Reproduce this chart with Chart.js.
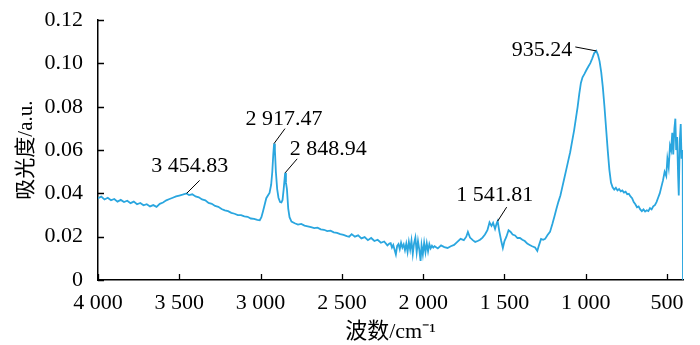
<!DOCTYPE html>
<html>
<head>
<meta charset="utf-8">
<script src="https://cdn.jsdelivr.net/npm/chart.js@4/dist/chart.umd.min.js"></script>
<style>
  html, body { margin: 0; padding: 0; background: #fff; }
  #wrap { width: 700px; height: 345px; }
</style>
</head>
<body>
<div id="wrap"><canvas id="myChart"></canvas></div>
<script>
// волновые числа (cm^-1) и поглощение
const wavenumbers = [
  4000, 3980, 3960, 3940, 3920, 3900, 3880, 3860, 3840, 3820, 3800, 3780, 3760, 3740, 3720, 3700,
  3680, 3660, 3640, 3620, 3600, 3580, 3560, 3540, 3520, 3500, 3480, 3455, 3440, 3420, 3400, 3380,
  3360, 3340, 3320, 3300, 3280, 3260, 3240, 3220, 3200, 3180, 3160, 3140, 3120, 3100, 3080, 3060,
  3040, 3020, 3005, 2995, 2985, 2975, 2965, 2955, 2945, 2935, 2928, 2922, 2917, 2912, 2906, 2898,
  2890, 2880, 2872, 2865, 2858, 2852, 2849, 2844, 2838, 2830, 2822, 2810, 2790, 2770, 2750, 2730,
  2710, 2690, 2670, 2650, 2630, 2610, 2590, 2570, 2550, 2530, 2510, 2490, 2470, 2455, 2440, 2420,
  2400, 2380, 2360, 2340, 2320, 2300, 2280, 2260, 2240, 2220, 2208,
  2200, 2192, 2184, 2176, 2168, 2160, 2152, 2144, 2136, 2128, 2120, 2112, 2104, 2096, 2088, 2080,
  2072, 2064, 2056, 2048, 2040, 2032, 2024, 2016, 2010, 2002, 1994, 1986, 1978, 1970, 1962, 1954,
  1946, 1938, 1930, 1910, 1890, 1870, 1850, 1830, 1810, 1790,
  1770, 1750, 1735, 1725, 1712, 1695, 1680, 1665, 1650, 1635, 1620, 1605, 1592, 1580, 1570, 1558,
  1548, 1542, 1532, 1520, 1510, 1500, 1488, 1475, 1462, 1450, 1435, 1420, 1405, 1390, 1375, 1360,
  1345, 1330, 1312, 1298, 1288, 1275, 1262, 1250, 1235, 1220, 1205, 1192, 1180, 1168, 1156, 1144,
  1132, 1120, 1108, 1096, 1084, 1072, 1060, 1050, 1040, 1030, 1020, 1008, 996, 984, 972, 960,
  948, 935, 925, 915, 905, 895, 885, 875, 865, 855, 845, 835, 825, 815, 805, 795,
  785, 775, 765, 755, 745, 735, 725, 715, 705, 695, 685, 675, 665, 655, 645, 635,
  625, 615, 605, 595, 585, 575, 565, 555, 545, 535, 525, 515, 505, 498, 490, 482,
  475, 468, 462, 455, 449, 444, 438, 432, 428, 422, 416, 411, 407, 404, 402
];
const absorbance = [
  0.0378, 0.0385, 0.0372, 0.0380, 0.0368, 0.0374, 0.0362, 0.0370, 0.0360, 0.0366, 0.0355, 0.0362, 0.0350, 0.0356, 0.0345, 0.0350,
  0.0340, 0.0346, 0.0338, 0.0352, 0.0358, 0.0368, 0.0374, 0.0380, 0.0386, 0.0390, 0.0394, 0.0400, 0.0392, 0.0396, 0.0386, 0.0382,
  0.0372, 0.0368, 0.0356, 0.0352, 0.0342, 0.0338, 0.0328, 0.0322, 0.0318, 0.0310, 0.0306, 0.0300, 0.0300, 0.0294, 0.0292, 0.0284,
  0.0282, 0.0278, 0.0276, 0.0290, 0.0318, 0.0348, 0.0378, 0.0390, 0.0402, 0.0440, 0.0500, 0.0580, 0.0630, 0.0600, 0.0500, 0.0420,
  0.0380, 0.0360, 0.0358, 0.0370, 0.0420, 0.0470, 0.0495, 0.0450, 0.0420, 0.0330, 0.0290, 0.0270, 0.0262, 0.0256, 0.0259, 0.0251,
  0.0248, 0.0244, 0.0240, 0.0242, 0.0234, 0.0232, 0.0226, 0.0228, 0.0220, 0.0218, 0.0212, 0.0208, 0.0203, 0.0200, 0.0212, 0.0200,
  0.0206, 0.0192, 0.0198, 0.0184, 0.0194, 0.0180, 0.0186, 0.0172, 0.0178, 0.0160, 0.0168,
  0.0170, 0.0150, 0.0162, 0.0140, 0.0118, 0.0158, 0.0166, 0.0142, 0.0172, 0.0150, 0.0164, 0.0138, 0.0168, 0.0130, 0.0176, 0.0140,
  0.0182, 0.0120, 0.0170, 0.0196, 0.0128, 0.0180, 0.0140, 0.0088, 0.0160, 0.0118, 0.0172, 0.0128, 0.0170, 0.0132, 0.0166, 0.0146,
  0.0158, 0.0150, 0.0156, 0.0146, 0.0160, 0.0152, 0.0148, 0.0156, 0.0162, 0.0176,
  0.0190, 0.0184, 0.0200, 0.0222, 0.0196, 0.0184, 0.0176, 0.0180, 0.0186, 0.0196, 0.0210, 0.0230, 0.0266, 0.0250, 0.0264, 0.0236,
  0.0262, 0.0272, 0.0226, 0.0180, 0.0148, 0.0180, 0.0200, 0.0230, 0.0222, 0.0210, 0.0206, 0.0194, 0.0194, 0.0186, 0.0180, 0.0168,
  0.0162, 0.0156, 0.0150, 0.0134, 0.0160, 0.0190, 0.0186, 0.0190, 0.0208, 0.0222, 0.0260, 0.0296, 0.0330, 0.0362, 0.0390, 0.0430,
  0.0470, 0.0510, 0.0550, 0.0590, 0.0640, 0.0690, 0.0750, 0.0800, 0.0860, 0.0910, 0.0936, 0.0952, 0.0970, 0.0986, 0.1002, 0.1024,
  0.1048, 0.1058, 0.1040, 0.1010, 0.0960, 0.0890, 0.0800, 0.0700, 0.0600, 0.0510, 0.0450, 0.0428, 0.0418, 0.0426, 0.0414, 0.0420,
  0.0410, 0.0414, 0.0404, 0.0408, 0.0396, 0.0398, 0.0386, 0.0378, 0.0360, 0.0350, 0.0336, 0.0340, 0.0326, 0.0318, 0.0326, 0.0316,
  0.0322, 0.0318, 0.0332, 0.0326, 0.0340, 0.0346, 0.0360, 0.0380, 0.0400, 0.0430, 0.0460, 0.0500, 0.0480, 0.0560, 0.0520, 0.0620,
  0.0600, 0.0680, 0.0580, 0.0700, 0.0745, 0.0600, 0.0660, 0.0480, 0.0390, 0.0640, 0.0720, 0.0560, 0.0600, 0.0580, 0.0
];

// подписи пиков
const peakLabels = ['3 454.83', '2 917.47', '2 848.94', '1 541.81', '935.24'];
const peakX = [3454.83, 2917.47, 2848.94, 1541.81, 935.24];
const peakY = [0.0400, 0.0630, 0.0495, 0.0272, 0.1058];

const xTicks = [4000, 3500, 3000, 2500, 2000, 1500, 1000, 500];
const yTicks = [0, 0.02, 0.04, 0.06, 0.08, 0.10, 0.12];

const serif = "'Liberation Serif', 'Times New Roman', 'Noto Sans CJK SC', serif";

function fmtThousands(v) {
  if (v >= 1000) {
    const s = String(v);
    return s.slice(0, s.length - 3) + ' ' + s.slice(-3);
  }
  return String(v);
}

// засечки внутрь графика + подписи пиков
const innerTicks = {
  id: 'innerTicks',
  afterDatasetsDraw(chart) {
    const ctx = chart.ctx;
    const xs = chart.scales.x, ys = chart.scales.y;
    const area = chart.chartArea;
    ctx.save();
    ctx.strokeStyle = '#000';
    ctx.lineWidth = 1.3;
    ctx.beginPath();
    xTicks.forEach(t => {
      const px = Math.round(xs.getPixelForValue(t)) + 0.5;
      ctx.moveTo(px, area.bottom);
      ctx.lineTo(px, area.bottom - 6);
    });
    yTicks.forEach(t => {
      const py = Math.round(ys.getPixelForValue(t)) + 0.5;
      ctx.moveTo(area.left, py);
      ctx.lineTo(area.left + 6, py);
    });
    ctx.stroke();

    // выноски
    const offs = [
      { lx: 13, ly: -13, tx: 3, ty: -27, align: 'center' },
      { lx: 11, ly: -15, tx: 10, ty: -24, align: 'center' },
      { lx: 12, ly: -14, tx: 43, ty: -24, align: 'center' },
      { lx: 9, ly: -14, tx: -3, ty: -26, align: 'center' },
      { lx: -21, ly: -4, tx: -24, ty: -1, align: 'right' }
    ];
    ctx.lineWidth = 1;
    ctx.fillStyle = '#000';
    ctx.font = "22px " + serif;
    ctx.textBaseline = 'middle';
    peakLabels.forEach((lab, i) => {
      const px = xs.getPixelForValue(peakX[i]);
      const py = ys.getPixelForValue(peakY[i]);
      const o = offs[i];
      ctx.beginPath();
      ctx.moveTo(px, py);
      ctx.lineTo(px + o.lx, py + o.ly);
      ctx.stroke();
      ctx.textAlign = o.align;
      ctx.fillText(lab, px + o.tx, py + o.ty);
    });
    ctx.restore();
  }
};

const ctx = document.getElementById('myChart').getContext('2d');
const chart = new Chart(ctx, {
  type: 'line',
  data: {
    datasets: [{
      data: wavenumbers.map((w, i) => ({ x: w, y: absorbance[i] })),
      borderColor: '#2aa6df',
      borderWidth: 1.8,
      pointRadius: 0,
      tension: 0,
      fill: false
    }]
  },
  options: {
    responsive: true,
    maintainAspectRatio: false,
    animation: false,
    layout: { padding: { top: 10, right: 17, left: 0, bottom: 0 } },
    plugins: { legend: { display: false }, tooltip: { enabled: false } },
    scales: {
      x: {
        type: 'linear',
        reverse: true,
        min: 402,
        max: 4000,
        afterBuildTicks: s => { s.ticks = xTicks.map(v => ({ value: v })); },
        afterFit: s => { s.height = 65; },
        grid: { display: false },
        border: { display: true, color: '#000', width: 1.5 },
        ticks: {
          color: '#000',
          font: { family: serif, size: 22 },
          padding: 2,
          maxRotation: 0,
          autoSkip: false,
          callback: v => fmtThousands(v)
        },
        title: {
          display: true,
          text: '波数/cm⁻¹',
          color: '#000',
          font: { family: serif, size: 22 },
          padding: { top: 0, bottom: 0 }
        }
      },
      y: {
        min: 0,
        max: 0.12,
        afterBuildTicks: s => { s.ticks = yTicks.map(v => ({ value: v })); },
        afterFit: s => { s.width = 98; },
        grid: { display: false },
        border: { display: true, color: '#000', width: 1.5 },
        ticks: {
          color: '#000',
          font: { family: serif, size: 22 },
          padding: 7,
          callback: v => v === 0 ? '0' : v.toFixed(2)
        },
        title: {
          display: true,
          text: '吸光度/a.u.',
          color: '#000',
          font: { family: serif, size: 21 },
          padding: { top: 14, bottom: 0 }
        }
      }
    }
  },
  plugins: [innerTicks]
});
</script>
</body>
</html>
